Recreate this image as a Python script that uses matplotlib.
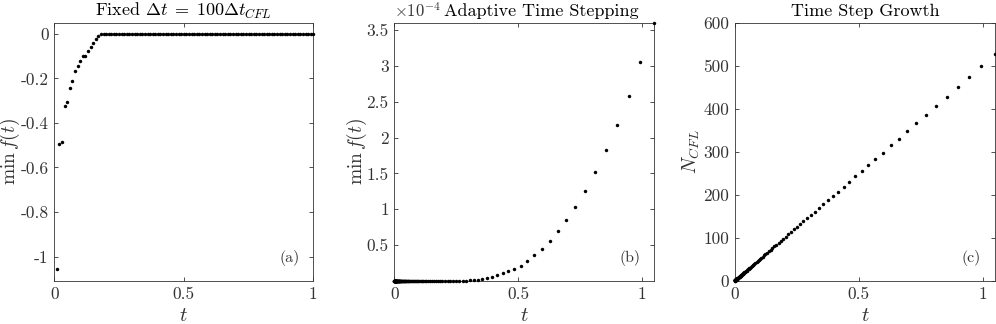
import numpy as np
import matplotlib
matplotlib.use("Agg")
from matplotlib import pyplot as plt

plt.rcParams['font.family'] = 'serif'
plt.rcParams['font.serif'] = ['cmr10']
plt.rcParams['mathtext.fontset'] = 'cm'
plt.rcParams['axes.unicode_minus'] = False

GRAY = '0.2'

# panel (a): fixed step, dt = 0.01
t_a = [0.01, 0.02, 0.03, 0.04, 0.05, 0.06, 0.07, 0.08, 0.09, 0.10,
       0.11, 0.12, 0.13, 0.14, 0.15, 0.16, 0.17, 0.18, 0.19, 0.20,
       0.21, 0.22, 0.23, 0.24, 0.25, 0.26, 0.27, 0.28, 0.29, 0.30,
       0.31, 0.32, 0.33, 0.34, 0.35, 0.36, 0.37, 0.38, 0.39, 0.40,
       0.41, 0.42, 0.43, 0.44, 0.45, 0.46, 0.47, 0.48, 0.49, 0.50,
       0.51, 0.52, 0.53, 0.54, 0.55, 0.56, 0.57, 0.58, 0.59, 0.60,
       0.61, 0.62, 0.63, 0.64, 0.65, 0.66, 0.67, 0.68, 0.69, 0.70,
       0.71, 0.72, 0.73, 0.74, 0.75, 0.76, 0.77, 0.78, 0.79, 0.80,
       0.81, 0.82, 0.83, 0.84, 0.85, 0.86, 0.87, 0.88, 0.89, 0.90,
       0.91, 0.92, 0.93, 0.94, 0.95, 0.96, 0.97, 0.98, 0.99, 1.00]
minf_a = [-1.057, -0.495, -0.486, -0.326, -0.304, -0.243, -0.213, -0.168, -0.143, -0.121,
          -0.100, -0.099, -0.076, -0.060, -0.042, -0.024, -0.008] + [0.0] * 83

# panels (b), (c): adaptive steps
t_b = [0.000, 0.000, 0.000, 0.000, 0.001, 0.001, 0.001, 0.001, 0.001, 0.001,
       0.001, 0.002, 0.002, 0.002, 0.002, 0.002, 0.003, 0.003, 0.003, 0.003,
       0.004, 0.004, 0.004, 0.005, 0.005, 0.005, 0.006, 0.006, 0.007, 0.007,
       0.007, 0.008, 0.008, 0.009, 0.009, 0.010, 0.011, 0.011, 0.012, 0.013,
       0.013, 0.014, 0.015, 0.016, 0.017, 0.018, 0.019, 0.020, 0.021, 0.022,
       0.023, 0.025, 0.026, 0.028, 0.029, 0.031, 0.032, 0.034, 0.036, 0.038,
       0.040, 0.042, 0.044, 0.047, 0.049, 0.052, 0.055, 0.057, 0.060, 0.064,
       0.067, 0.071, 0.074, 0.078, 0.082, 0.087, 0.091, 0.096, 0.101, 0.106,
       0.112, 0.117, 0.123, 0.130, 0.137, 0.144, 0.151, 0.159, 0.167, 0.176,
       0.185, 0.194, 0.204, 0.215, 0.226, 0.238, 0.250, 0.263, 0.276, 0.290,
       0.305, 0.321, 0.338, 0.356, 0.375, 0.394, 0.415, 0.438, 0.461, 0.485,
       0.511, 0.538, 0.566, 0.596, 0.628, 0.661, 0.695, 0.731, 0.770, 0.810,
       0.855, 0.898, 0.946, 0.994, 1.049]
n_cfl = [1.0, 1.1, 1.2, 1.2, 1.3, 1.4, 1.4, 1.5, 1.6, 1.7,
         1.7, 1.8, 1.9, 2.0, 2.1, 2.2, 2.4, 2.5, 2.6, 2.7,
         2.9, 3.0, 3.2, 3.3, 3.5, 3.7, 3.9, 4.0, 4.3, 4.5,
         4.7, 4.9, 5.2, 5.5, 5.7, 6.0, 6.3, 6.7, 7.0, 7.4,
         7.7, 8.1, 8.5, 9.0, 9.4, 9.9, 10.4, 11.0, 11.5, 12.1,
         12.7, 13.4, 14.1, 14.8, 15.5, 16.3, 17.2, 18.0, 19.0, 19.9,
         20.9, 22.0, 23.2, 24.3, 25.6, 26.9, 28.3, 29.7, 31.2, 32.8,
         34.5, 36.3, 38.1, 40.1, 42.1, 44.3, 46.5, 48.9, 51.4, 54.0,
         56.8, 59.7, 62.7, 65.9, 69.3, 72.8, 76.6, 80.5, 84.6, 88.9,
         93.4, 98.2, 103.2, 108.4, 114.0, 119.8, 125.9, 132.3, 139.0, 146.1,
         153.6, 161.4, 169.6, 178.9, 187.4, 197.4, 207.4, 219.0, 230.7, 243.2,
         256.2, 269.4, 283.4, 298.0, 315.7, 331.0, 348.0, 366.6, 386.0, 407.0,
         428.0, 451.0, 474.6, 500.0, 526.6]
# min f(t) in units of 1e-4
minf_b = [0.0] * 90 + [
    0.0, 0.0, 0.0, 0.0005, 0.0008, 0.001, 0.002, 0.003, 0.004, 0.006,
    0.009, 0.014, 0.020, 0.030, 0.039, 0.057, 0.077, 0.105, 0.137, 0.174,
    0.216, 0.280, 0.356, 0.448, 0.560, 0.690, 0.848, 1.034, 1.253, 1.514,
    1.821, 2.174, 2.583, 3.057, 3.600]

ticks_a = [-1, -0.8, -0.6, -0.4, -0.2, 0]
ticks_b = [0.5, 1, 1.5, 2, 2.5, 3, 3.5]
ticks_c = [0, 100, 200, 300, 400, 500, 600]
ticks_t = [0, 0.5, 1]


def fmt(v):
    return '%g' % v


fig = plt.figure(figsize=(9.96, 3.24), dpi=100)
W, H = 996.0, 324.0
ax_a = fig.add_axes([54.3 / W, 1 - 281 / H, 259 / W, 258.3 / H])
ax_b = fig.add_axes([394.3 / W, 1 - 281 / H, 259.7 / W, 258.3 / H])
ax_c = fig.add_axes([735 / W, 1 - 281 / H, 260 / W, 258.3 / H])

mk = dict(ls='none', marker='o', ms=2.5, mew=0, color='k', clip_on=False, zorder=3)
ax_a.plot(t_a, minf_a, **mk)
ax_b.plot(t_b, minf_b, **mk)
ax_c.plot(t_b, n_cfl, **mk)

ax_a.set_xlim(0, 1)
ax_a.set_ylim(-1.11, 0.05)
ax_a.set_yticks(ticks_a)
ax_b.set_xlim(0, 1.049)
ax_b.set_ylim(0, 3.6)
ax_b.set_yticks(ticks_b)
ax_c.set_xlim(0, 1.049)
ax_c.set_ylim(0, 600)
ax_c.set_yticks(ticks_c)

for ax, lab in zip([ax_a, ax_b, ax_c], ['(a)', '(b)', '(c)']):
    ax.set_xticks(ticks_t)
    ax.set_xticklabels([fmt(v) for v in ticks_t])
    ax.set_yticklabels([fmt(v) for v in ax.get_yticks()])
    ax.tick_params(direction='in', length=3, width=0.6, colors=GRAY,
                   labelsize=12.5, top=True, right=True, pad=4)
    for sp in ax.spines.values():
        sp.set_color(GRAY)
        sp.set_linewidth(0.6)
    ax.set_xlabel('$t$', fontsize=15, color=GRAY)
    ax.xaxis.set_label_coords(0.5, -0.1)
    ax.text(0.907, 0.089, lab, transform=ax.transAxes, fontsize=11.5,
            color=GRAY, ha='center', va='center')

ax_a.set_ylabel(r'$\min\, f(t)$', fontsize=14, color=GRAY)
ax_a.yaxis.set_label_coords(-0.124, 0.5)
ax_b.set_ylabel(r'$\min\, f(t)$', fontsize=14, color=GRAY)
ax_b.yaxis.set_label_coords(-0.098, 0.5)
ax_c.set_ylabel(r'$N_{CFL}$', fontsize=14, color=GRAY)
ax_c.yaxis.set_label_coords(-0.125, 0.5)

ax_a.set_title(r'Fixed $\Delta t\;=\;100\Delta t_{CFL}$', fontsize=13, pad=5)
ax_b.set_title('Adaptive Time Stepping', fontsize=13, pad=5, x=0.565)
ax_b.text(0.0, 1.012, r'$\times10^{-4}$', transform=ax_b.transAxes,
          fontsize=12, color=GRAY, ha='left', va='bottom')
ax_c.set_title('Time Step Growth', fontsize=13, pad=5)

fig.savefig('out.png', dpi=100)
